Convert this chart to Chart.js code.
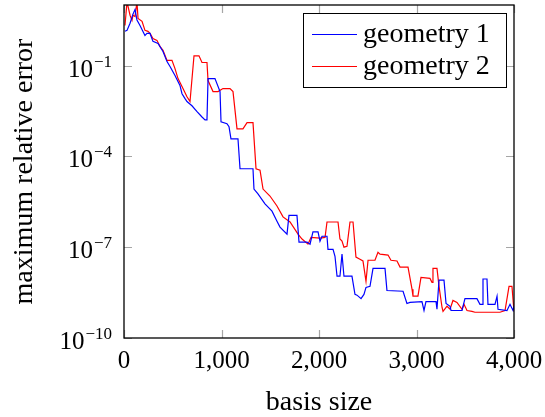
<!DOCTYPE html>
<html>
<head>
<meta charset="utf-8">
<script src="https://cdn.jsdelivr.net/npm/chart.js@4.4.0/dist/chart.umd.min.js"></script>
<style>
body { margin: 0; background: #fff; }
</style>
</head>
<body>
<canvas id="chartError" width="545" height="417"></canvas>
<script>
var seriesNames = ['geometry 1', 'geometry 2'];

var basisSize1 = [10, 31, 62, 92, 113, 133, 164, 215, 236, 267, 297, 349, 400, 441, 472, 523, 574, 595, 626, 646,
	697, 749, 800, 831, 851, 862, 933, 985, 995, 1056, 1077, 1097, 1169, 1190, 1323, 1333, 1374, 1446, 1518, 1569,
	1600, 1672, 1692, 1774, 1795, 1877, 1908, 1938, 1990, 2010, 2031, 2082, 2092, 2144, 2164, 2185, 2215, 2236, 2256, 2338,
	2369, 2390, 2431, 2461, 2482, 2523, 2554, 2677, 2697, 2862, 2902, 2933, 3056, 3077, 3097, 3200, 3210, 3231, 3282, 3303,
	3344, 3354, 3467, 3497, 3620, 3651, 3672, 3682, 3723, 3733, 3805, 3826, 3836, 3928, 3959, 3990, 4000];
var error1 = [1.35, 1.45, 2.5, 5.0, 7.1, 3.2, 2.1, 0.98, 1.15, 1.15, 0.63, 0.54, 0.29, 0.135, 0.093, 0.047, 0.022, 0.0117, 0.0081, 0.0065,
	0.0047, 0.003, 0.002, 0.0016, 0.0016, 0.037, 0.037, 0.0138, 0.00138, 0.0012, 0.00095, 0.00038, 0.00038, 3.9e-5, 3.9e-5, 8.3e-6, 5.8e-6, 2.7e-6, 1.55e-6, 7.2e-7,
	4.6e-7, 2.7e-7, 1.12e-6, 1.12e-6, 1.48e-7, 1.48e-7, 1.26e-7, 3.2e-7, 3.2e-7, 1.58e-7, 2.3e-7, 2.3e-7, 8.5e-8, 8.5e-8, 5.0e-8, 1.1e-8, 1.1e-8, 5.9e-8, 1.1e-8, 1.1e-8,
	2.75e-9, 2.6e-9, 2.0e-9, 2.75e-9, 4.7e-9, 5.1e-9, 2.0e-8, 2.0e-8, 3.7e-9, 3.5e-9, 1.38e-9, 1.5e-9, 1.6e-9, 8.1e-10, 1.6e-9, 1.6e-9, 8.9e-10, 8.1e-9, 8.1e-9, 1.38e-9,
	1.12e-9, 8.1e-10, 8.1e-10, 2.0e-9, 2.0e-9, 1.3e-9, 1.3e-9, 8.9e-9, 8.9e-9, 1.3e-9, 1.3e-9, 2.4e-9, 8.9e-10, 8.1e-10, 1.3e-9, 8.1e-10, 1.12e-9];

var basisSize2 = [10, 31, 62, 82, 92, 113, 133, 144, 185, 215, 246, 267, 297, 338, 369, 400, 441, 492, 523, 554,
	605, 646, 677, 718, 769, 800, 851, 862, 913, 964, 1015, 1087, 1118, 1159, 1220, 1262, 1323, 1354, 1395, 1426,
	1497, 1569, 1631, 1703, 1785, 1826, 1887, 1918, 2010, 2062, 2082, 2195, 2215, 2236, 2256, 2287, 2318, 2349, 2379, 2420,
	2451, 2482, 2503, 2574, 2605, 2626, 2708, 2738, 2800, 2831, 2913, 2954, 2964, 3015, 3046, 3138, 3159, 3169, 3210, 3231,
	3262, 3272, 3313, 3344, 3374, 3415, 3467, 3487, 3518, 3569, 3600, 3856, 3908, 3949, 3979, 4000];
var error2 = [2.1, 12.6, 4.6, 3.1, 4.6, 4.2, 12.6, 3.6, 2.9, 1.45, 1.35, 1.15, 0.78, 0.68, 0.43, 0.32, 0.148, 0.148, 0.079, 0.037,
	0.0174, 0.0093, 0.0065, 0.21, 0.21, 0.126, 0.126, 0.032, 0.0138, 0.0138, 0.0174, 0.0174, 0.0138, 0.00081, 0.00081, 0.0013, 0.0013, 3.9e-5, 3.5e-5, 8.3e-6,
	4.9e-6, 2.3e-6, 1.0e-6, 6.8e-7, 2.7e-7, 1.86e-7, 1.26e-7, 2.1e-7, 2.0e-7, 2.1e-7, 6.8e-7, 6.8e-7, 1.86e-7, 1.58e-7, 1.0e-7, 1.07e-7, 6.8e-7, 6.8e-7, 4.7e-8, 4.0e-8,
	3.5e-8, 7.4e-9, 3.7e-8, 3.7e-8, 6.8e-8, 5.9e-8, 5.5e-8, 3.7e-8, 3.5e-8, 2.2e-8, 2.2e-8, 4.1e-9, 2.4e-9, 2.4e-9, 1.0e-8, 9.3e-9, 6.9e-9, 2.0e-8, 2.0e-8, 5.1e-9,
	1.02e-9, 7.6e-10, 1.12e-9, 8.9e-10, 1.74e-9, 1.5e-9, 8.9e-10, 1.3e-9, 8.1e-10, 7.6e-10, 7.1e-10, 7.1e-10, 8.1e-10, 5.1e-9, 5.1e-9, 7.6e-10];

var xTicks = [0, 1000, 2000, 3000, 4000];
var xTickLabels = ['0', '1,000', '2,000', '3,000', '4,000'];
var yTicks = [1e-10, 1e-7, 1e-4, 1e-1];
var yTickExponents = ['\u221210', '\u22127', '\u22124', '\u22121'];

var FONT = '"Liberation Serif", "Times New Roman", serif';

function toPoints(xs, ys) {
	return xs.map(function (x, i) { return { x: x, y: ys[i] }; });
}

// pgfplots-like frame: box, inward ticks, labels, titles and boxed legend
var framePlugin = {
	id: 'frame',
	afterDraw: function (chart) {
		var c = chart.ctx;
		var a = chart.chartArea;
		var sx = chart.scales.x;
		var sy = chart.scales.y;
		c.save();

		// inner tick marks
		c.strokeStyle = 'rgba(0,0,0,0.35)';
		c.lineWidth = 1.2;
		c.beginPath();
		xTicks.forEach(function (v) {
			var px = Math.round(sx.getPixelForValue(v)) + 0.5;
			c.moveTo(px, a.bottom); c.lineTo(px, a.bottom - 8);
			c.moveTo(px, a.top); c.lineTo(px, a.top + 8);
		});
		yTicks.forEach(function (v) {
			var py = Math.round(sy.getPixelForValue(v)) + 0.5;
			c.moveTo(a.left, py); c.lineTo(a.left + 8, py);
			c.moveTo(a.right, py); c.lineTo(a.right - 8, py);
		});
		c.stroke();

		// box
		c.strokeStyle = '#000';
		c.lineWidth = 1.3;
		c.strokeRect(a.left, a.top, a.right - a.left, a.bottom - a.top);

		// x tick labels
		c.fillStyle = '#000';
		c.font = '25px ' + FONT;
		c.textAlign = 'center';
		c.textBaseline = 'alphabetic';
		xTicks.forEach(function (v, i) {
			c.fillText(xTickLabels[i], sx.getPixelForValue(v), a.bottom + 30);
		});

		// y tick labels: 10 with superscript exponent
		yTicks.forEach(function (v, i) {
			var py = sy.getPixelForValue(v);
			c.font = '17px ' + FONT;
			c.textAlign = 'right';
			var expW = c.measureText(yTickExponents[i]).width;
			c.fillText(yTickExponents[i], 112, py + 1);
			c.font = '25px ' + FONT;
			c.fillText('10', 112 - expW - 1, py + 11);
		});

		// axis titles
		c.font = '28px ' + FONT;
		c.textAlign = 'center';
		c.fillText('basis size', (a.left + a.right) / 2, 410);
		c.save();
		c.translate(32, (a.top + a.bottom) / 2);
		c.rotate(-Math.PI / 2);
		c.fillText('maximum relative error', 0, 0);
		c.restore();

		// legend
		c.fillStyle = '#fff';
		c.fillRect(303, 13, 203, 74);
		c.strokeStyle = '#000';
		c.lineWidth = 1;
		c.strokeRect(303.5, 13.5, 203, 74);
		chart.data.datasets.forEach(function (ds, i) {
			var ly = 34 + i * 32;
			c.strokeStyle = ds.borderColor;
			c.lineWidth = 1.2;
			c.beginPath();
			c.moveTo(312, ly + 0.5); c.lineTo(357, ly + 0.5);
			c.stroke();
			c.fillStyle = '#000';
			c.textAlign = 'left';
			c.font = '28px ' + FONT;
			c.fillText(ds.label, 363, ly + 8);
		});
		c.restore();
	}
};

var ctx = document.getElementById('chartError').getContext('2d');
var chart = new Chart(ctx, {
	type: 'line',
	data: {
		datasets: [{
			label: seriesNames[0],
			borderColor: '#0000ff',
			backgroundColor: '#0000ff',
			borderWidth: 1.2,
			pointRadius: 0,
			data: toPoints(basisSize1, error1)
		}, {
			label: seriesNames[1],
			borderColor: '#ff0000',
			backgroundColor: '#ff0000',
			borderWidth: 1.2,
			pointRadius: 0,
			data: toPoints(basisSize2, error2)
		}]
	},
	options: {
		responsive: false,
		animation: false,
		devicePixelRatio: 1,
		layout: { padding: { top: 5, right: 31, left: 0, bottom: 0 } },
		plugins: { legend: { display: false }, tooltip: { enabled: false } },
		scales: {
			x: {
				type: 'linear',
				min: 0,
				max: 4000,
				grid: { display: false },
				border: { display: false },
				ticks: { display: false },
				afterFit: function (s) { s.height = 79; }
			},
			y: {
				type: 'logarithmic',
				min: 1e-10,
				max: 10,
				grid: { display: false },
				border: { display: false },
				ticks: { display: false },
				afterFit: function (s) { s.width = 124; }
			}
		}
	},
	plugins: [framePlugin]
});
</script>
</body>
</html>
